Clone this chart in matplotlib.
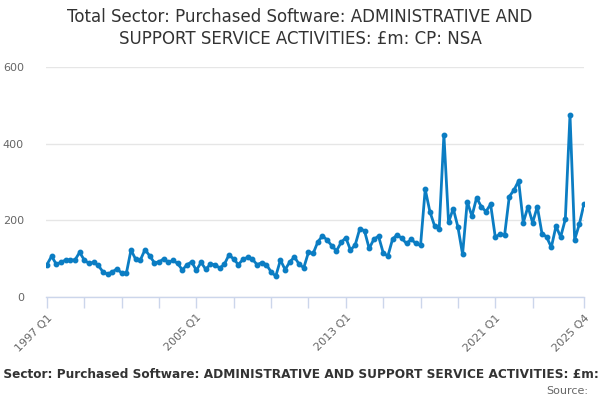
import matplotlib
matplotlib.use("Agg")
import matplotlib.pyplot as plt

years = list(range(1997, 2026))
quarters = [f"{y} Q{q}" for y in years for q in range(1, 5)]

values = [
    85, 107, 86, 91, 97, 97, 97, 117,
    97, 88, 91, 83, 66, 60, 66, 74,
    63, 62, 123, 99, 97, 124, 108, 90,
    92, 100, 91, 96, 88, 71, 85, 92,
    70, 91, 73, 86, 85, 76, 86, 111,
    99, 85, 99, 104, 99, 85, 90, 85,
    66, 55, 97, 72, 92, 105, 86, 77,
    117, 114, 144, 160, 149, 134, 121, 143,
    155, 123, 136, 179, 173, 127, 151, 159,
    116, 107, 151, 163, 153, 140, 151, 140,
    135, 281, 223, 186, 179, 423, 195, 231,
    183, 112, 249, 211, 259, 236, 223, 242,
    157, 164, 162, 262, 279, 303, 194, 236,
    194, 236, 166, 157, 130, 185, 157, 203,
    475, 150, 190, 243,
]

tick_idx = list(range(0, 105, 8)) + [115]
labelled = {"1997 Q1", "2005 Q1", "2013 Q1", "2021 Q1", "2025 Q4"}
tick_labels = [quarters[i] if quarters[i] in labelled else "" for i in tick_idx]

title = "Total Sector: Purchased Software: ADMINISTRATIVE AND SUPPORT SERVICE ACTIVITIES: £m: CP: NSA"

fig = plt.figure(figsize=(6, 4), dpi=100)
ax = fig.add_axes([46 / 600, 1 - 297.3 / 400, (584 - 46) / 600, (297.3 - 66.7) / 400])

x = list(range(len(values)))
ax.plot(x, values, color="#0b7dc3", lw=2, marker="o", ms=3.2, zorder=3)

ax.set_xlim(-0.2, 115)
ax.set_ylim(0, 600)
ax.set_yticks([0, 200, 400, 600])
ax.set_yticklabels(["0", "200", "400", "600"])
ax.grid(axis="y", color="#e6e6e6", lw=1)
ax.set_axisbelow(True)

ax.set_xticks(tick_idx)
ax.set_xticklabels(tick_labels, rotation=45, ha="right", rotation_mode="anchor")

for s in ["top", "right", "left"]:
    ax.spines[s].set_visible(False)
ax.spines["bottom"].set_color("#ccd6eb")
ax.spines["bottom"].set_linewidth(1)
ax.tick_params(axis="x", colors="#ccd6eb", length=8, width=1, labelcolor="#666666", labelsize=8, pad=3)
ax.tick_params(axis="y", length=0, labelcolor="#666666", labelsize=8, pad=16)

fig.text(0.5, 1 - 28 / 400, "Total Sector: Purchased Software: ADMINISTRATIVE AND\nSUPPORT SERVICE ACTIVITIES: £m: CP: NSA",
         ha="center", va="center", fontsize=12, color="#333333", linespacing=1.25)

# caption: positioned so that "Sector" begins at x = 3 px, as in the reference
renderer = fig.canvas.get_renderer()
probe = fig.text(0, 0, "Total ", fontsize=8.7, fontweight="bold")
w_prefix = probe.get_window_extent(renderer).width
probe.remove()
fig.text((3 - w_prefix) / 600, 1 - 374 / 400, title, ha="left", va="center", fontsize=8.7,
         fontweight="bold", color="#333333")
fig.text(588 / 600, 1 - 391 / 400, "Source:", ha="right", va="center", fontsize=8, color="#666666")

fig.savefig("out.png", dpi=100)
